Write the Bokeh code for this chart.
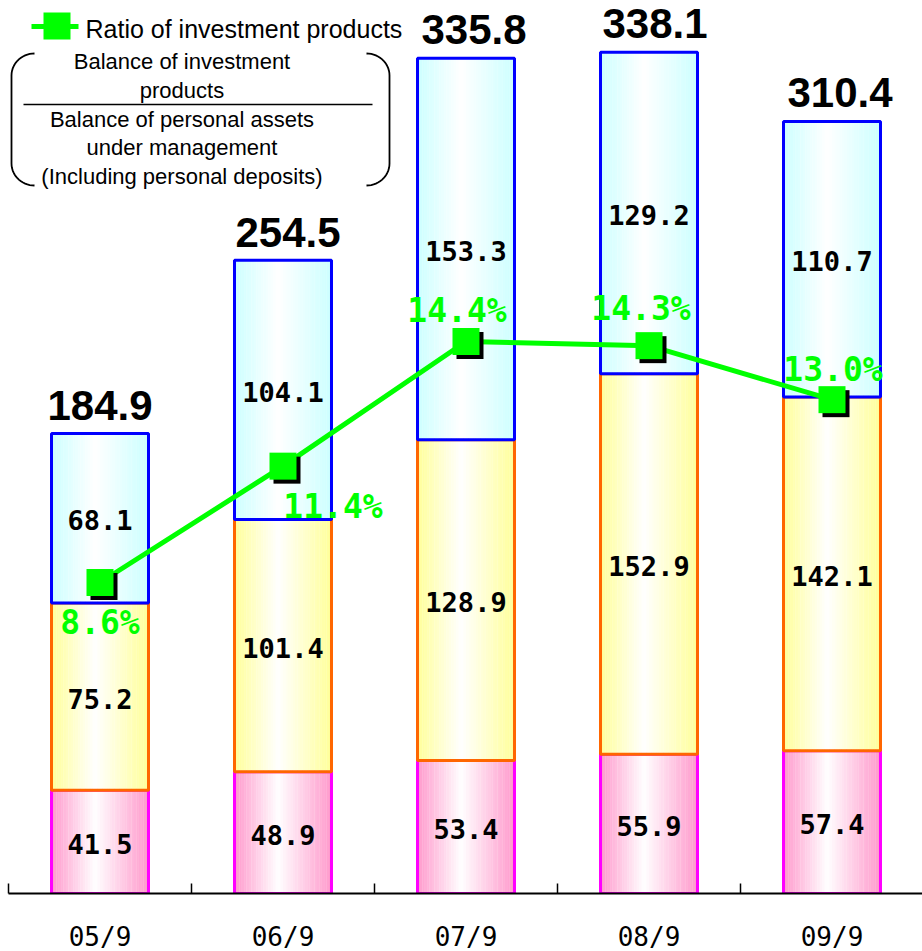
import numpy as np
from bokeh.plotting import figure
from bokeh.models import ColumnDataSource, Range1d, FixedTicker
from bokeh.core.properties import value
from bokeh.embed import file_html
from bokeh.resources import INLINE

# ---- data -------------------------------------------------------------
periods = ["05/9", "06/9", "07/9", "08/9", "09/9"]
balance_deposits = [41.5, 48.9, 53.4, 55.9, 57.4]       # bottom layer (pink)
balance_middle = [75.2, 101.4, 128.9, 152.9, 142.1]     # middle layer (yellow)
balance_investment = [68.1, 104.1, 153.3, 129.2, 110.7]  # top layer (blue)
totals = [184.9, 254.5, 335.8, 338.1, 310.4]
ratio_pct = [8.6, 11.4, 14.4, 14.3, 13.0]

formula_lines = ["Balance of investment", "products",
                 "Balance of personal assets", "under management",
                 "(Including personal deposits)"]

# ---- geometry / scales ------------------------------------------------
FRAME_W, FRAME_H = 922, 893
X0_PX, CAT_PX = 99.5, 183.0          # first category centre, category pitch
PX_PER_UNIT = 2.489                  # bar axis pixels per unit
R_REF_PX, R_REF, PX_PER_PCT = 341.0, 14.4, 41.55

x_start = -X0_PX / CAT_PX
x_end = (FRAME_W - X0_PX) / CAT_PX
y_end = FRAME_H / PX_PER_UNIT
r_start = R_REF - (FRAME_H - R_REF_PX) / PX_PER_PCT
r_end = R_REF + R_REF_PX / PX_PER_PCT


def sx(px):
    return x_start + px / CAT_PX


def sy(py):
    return (FRAME_H - py) / PX_PER_UNIT


idx = list(range(len(periods)))
BAR_W = 0.53

p = figure(frame_width=FRAME_W, frame_height=FRAME_H,
           x_range=Range1d(x_start, x_end), y_range=Range1d(0, y_end),
           y_axis_location=None, output_backend="svg", toolbar_location=None,
           min_border=0, outline_line_color=None,
           background_fill_color="white", border_fill_color="white")
p.extra_y_ranges = {"ratio": Range1d(r_start, r_end)}
p.grid.visible = False

ax = p.xaxis[0]
ax.ticker = FixedTicker(ticks=idx, minor_ticks=[i - 0.5 for i in range(len(periods) + 1)])
ax.major_label_overrides = {i: lab for i, lab in zip(idx, periods)}
ax.bounds = (-0.5, len(periods) - 0.5)
ax.major_tick_in = 0
ax.major_tick_out = 0
ax.minor_tick_in = 10
ax.minor_tick_out = 0
ax.minor_tick_line_color = "black"
ax.minor_tick_line_width = 1.5
ax.axis_line_color = "black"
ax.axis_line_width = 2
ax.major_label_standoff = 28
ax.major_label_text_font = "DejaVu Sans Mono"
ax.major_label_text_font_size = "26px"
ax.major_label_text_color = "black"

# ---- gradient-filled stacked bars --------------------------------------
N_STRIPS = 40


def strip_colors(edge_hex):
    edge = [int(edge_hex[i:i + 2], 16) for i in (1, 3, 5)]
    cols = []
    for k in range(N_STRIPS):
        t = (k + 0.5) / N_STRIPS
        f = (0.45 - t) / 0.45 if t < 0.45 else (t - 0.45) / 0.55
        f = min(1.0, max(0.0, f))
        rgb = [round(255 + (c - 255) * f) for c in edge]
        cols.append("#%02x%02x%02x" % tuple(rgb))
    return cols


layers = [
    (balance_deposits, "#FF99CC", "#FF00FF"),
    (balance_middle, "#FFFF99", "#FF6600"),
    (balance_investment, "#CCFFFF", "#0000FF"),
]

base = np.zeros(len(periods))
seg_x, seg_y, seg_t = [], [], []
for vals, edge, outline in layers:
    vals = np.array(vals)
    top = base + vals
    cols = strip_colors(edge)
    xs, ws, bs, ts, cs = [], [], [], [], []
    sw = BAR_W / N_STRIPS
    for i in idx:
        for k in range(N_STRIPS):
            xs.append(i - BAR_W / 2 + (k + 0.5) * sw)
            ws.append(sw * 1.1)
            bs.append(base[i])
            ts.append(top[i])
            cs.append(cols[k])
    p.vbar(x="x", width="w", bottom="b", top="t", fill_color="c", line_color=None,
           source=ColumnDataSource(dict(x=xs, w=ws, b=bs, t=ts, c=cs)))
    p.vbar(x=idx, width=BAR_W, bottom=base.tolist(), top=top.tolist(),
           fill_color=None, line_color=outline, line_width=3)
    seg_x += idx
    seg_y += ((base + top) / 2).tolist()
    seg_t += [f"{v:.1f}" for v in vals]
    base = top

p.text(x="x", y="y", text="t", source=ColumnDataSource(dict(x=seg_x, y=seg_y, t=seg_t)),
       text_font=value("DejaVu Sans Mono"), text_font_style="bold",
       text_font_size="27px", text_align="center", text_baseline="middle",
       text_color="black", y_offset=2)

total_dx = [0, 5, 8, 6, 8]
p.text(x="x", y="y", text="t", x_offset="dx",
       source=ColumnDataSource(dict(x=idx, y=totals, t=[f"{v:.1f}" for v in totals],
                                    dx=total_dx)),
       text_font=value("Liberation Sans"), text_font_style="bold",
       text_font_size="42px", text_align="center", text_baseline="middle",
       text_color="black", y_offset=-28)

# ---- ratio line -------------------------------------------------------
GREEN = "#00FF00"
p.line(idx, ratio_pct, y_range_name="ratio", line_color=GREEN, line_width=5)
p.scatter([i + 4 / CAT_PX for i in idx], [r - 4 / PX_PER_PCT for r in ratio_pct],
          y_range_name="ratio", marker="square", size=27,
          fill_color="black", line_color=None)
p.scatter(idx, ratio_pct, y_range_name="ratio", marker="square", size=27,
          fill_color=GREEN, line_color=None)

pct_dx = [0, 50, -9, -8, 1]
pct_dy = [40, 40, -31, -37, -30]
p.text(x="x", y="y", text="t", x_offset="dx", y_offset="dy", y_range_name="ratio",
       source=ColumnDataSource(dict(x=idx, y=ratio_pct, t=[f"{r:.1f}%" for r in ratio_pct],
                                    dx=pct_dx, dy=pct_dy)),
       text_font=value("DejaVu Sans Mono"), text_font_style="bold",
       text_font_size="33px", text_align="center", text_baseline="middle",
       text_color=GREEN)

# ---- legend and formula box ------------------------------------------
p.line([sx(31), sx(78)], [sy(26), sy(26)], line_color=GREEN, line_width=5)
p.scatter([sx(56.5)], [sy(25.5)], marker="square", size=27, fill_color=GREEN, line_color=None)
p.text(x=[sx(85)], y=[sy(28)], text=["Ratio of investment products"],
       text_font=value("Liberation Sans"), text_font_size="25px",
       text_align="left", text_baseline="middle", text_color="black")

line_py = [61, 90, 119, 147, 176]
p.text(x=[sx(181.5)] * len(formula_lines), y=[sy(v) for v in line_py], text=formula_lines,
       text_font=value("Liberation Sans"), text_font_size="22px",
       text_align="center", text_baseline="middle", text_color="black")
p.line([sx(23), sx(372)], [sy(104), sy(104)], line_color="black", line_width=1.5)


def bracket(x_tip, x_edge, y_top, y_bot, r=22):
    th = np.linspace(0, np.pi / 2, 16)
    dx = x_tip - x_edge
    top_x = x_tip - dx * np.sin(th)
    top_y = y_top + r * (1 - np.cos(th))
    bot_x = x_edge + dx * (1 - np.cos(th))
    bot_y = (y_bot - r) + r * np.sin(th)
    xs = np.concatenate([top_x, bot_x])
    ys = np.concatenate([top_y, bot_y])
    return [sx(v) for v in xs], [sy(v) for v in ys]


for tip, edge in ((34, 11), (366, 389)):
    bx, by = bracket(tip, edge, 53, 185)
    p.line(bx, by, line_color="black", line_width=1.8)

open("out.html", "w").write(file_html(p, INLINE))
